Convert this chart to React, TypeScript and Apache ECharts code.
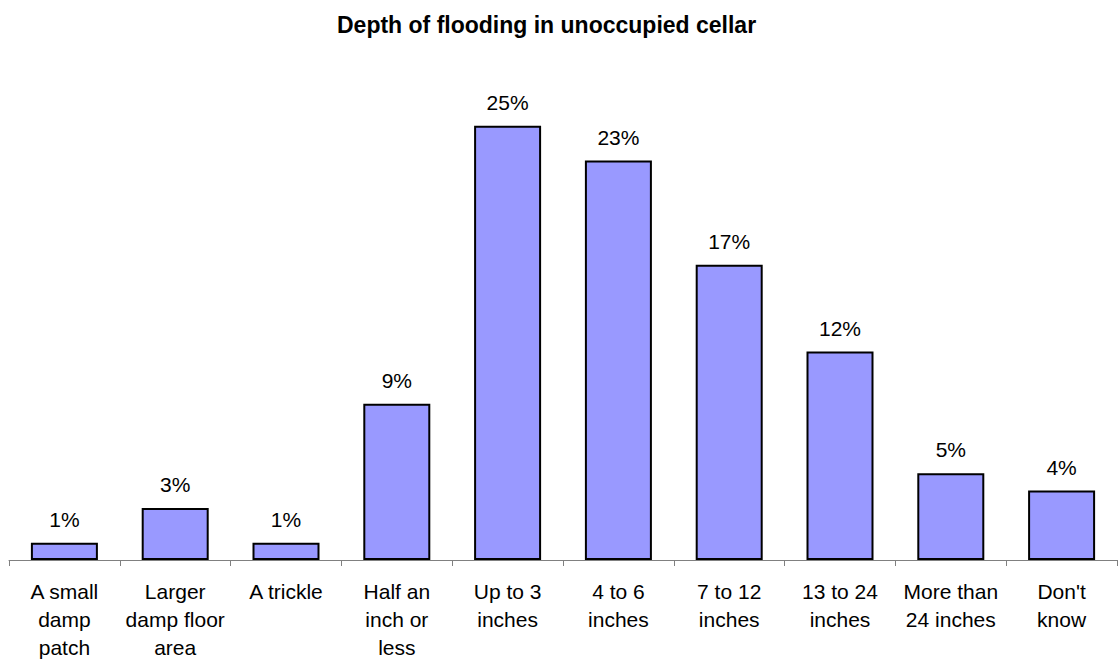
import React, { useEffect, useRef } from "react";
import * as echarts from "echarts";

const titleText = "Depth of flooding in unoccupied cellar";
const categories = [
  "A small\ndamp\npatch",
  "Larger\ndamp floor\narea",
  "A trickle",
  "Half an\ninch or\nless",
  "Up to 3\ninches",
  "4 to 6\ninches",
  "7 to 12\ninches",
  "13 to 24\ninches",
  "More than\n24 inches",
  "Don't\nknow",
];
const values = [1, 3, 1, 9, 25, 23, 17, 12, 5, 4];

const FONT = "'Liberation Sans', Arial, sans-serif";

export default function App() {
  const ref = useRef<HTMLDivElement>(null);
  useEffect(() => {
    if (!ref.current) return;
    const chart = echarts.init(ref.current, undefined, { renderer: "svg" });
    chart.setOption({
      animation: false,
      backgroundColor: "#ffffff",
      title: {
        text: titleText,
        left: 332,
        top: 8,
        textStyle: { fontFamily: FONT, fontSize: 23, fontWeight: "bold", color: "#000" },
      },
      grid: { left: 9, right: 1, top: 39, bottom: 101, containLabel: false },
      xAxis: {
        type: "category",
        data: categories,
        boundaryGap: true,
        axisLine: { show: true, lineStyle: { color: "#808080", width: 1 } },
        axisTick: { show: true, length: 6, lineStyle: { color: "#808080" } },
        axisLabel: {
          interval: 0,
          margin: 17,
          fontFamily: FONT,
          fontSize: 21,
          lineHeight: 28,
          color: "#000",
          align: "center",
        },
      },
      yAxis: {
        type: "value",
        min: 0,
        max: 30,
        show: false,
        splitLine: { show: false },
      },
      series: [
        {
          type: "bar",
          data: values,
          barWidth: 67,
          itemStyle: { color: "#9999FF", borderColor: "#000", borderWidth: 2 },
          label: {
            show: true,
            position: "top",
            distance: 13,
            formatter: "{c}%",
            fontFamily: FONT,
            fontSize: 21,
            color: "#000",
          },
        },
      ],
    });
    return () => chart.dispose();
  }, []);
  return (
    <div
      ref={ref}
      style={{ position: "absolute", left: 0, top: 0, width: 1118, height: 661, background: "#fff" }}
    />
  );
}
